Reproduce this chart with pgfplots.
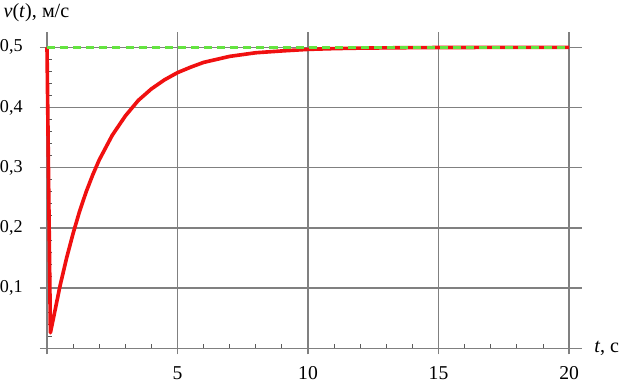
\documentclass[border=0pt]{standalone}
\usepackage{fontspec}
\setmainfont{Liberation Serif}
\usepackage{pgfplots}
\pgfplotsset{compat=1.18}
\definecolor{cred}{RGB}{240,16,16}
\definecolor{cgreen}{RGB}{100,228,64}
\definecolor{cgrid}{RGB}{128,128,128}
\begin{document}
\begin{tikzpicture}
\begin{axis}[
 scale only axis, width=538.6pt, height=320pt,
 xmin=-0.27, xmax=20.5, ymin=-0.01, ymax=0.525,
 axis lines=middle,
 axis line style={draw=cgrid, line width=1.5pt, -},
 grid=major, grid style={draw=cgrid, line width=1.4pt},
 xtick={0,5,10,15,20}, xticklabels={,5,10,15,20},
 ytick={0,0.1,0.2,0.3,0.4,0.5}, yticklabels={,{0,1},{0,2},{0,3},{0,4},{0,5}},
 minor x tick num=4, minor y tick num=4,
 major tick length=0pt, minor tick length=4.5pt,
 tick align=inside,
 minor tick style={draw=black!65, line width=0.9pt},
 xticklabel style={font=\fontsize{19.5}{22}\selectfont, inner ysep=4pt, inner xsep=0pt, anchor=north, yshift=-14pt},
 yticklabel style={font=\fontsize{18}{20}\selectfont, inner sep=0pt, anchor=east, xshift=-24pt},
 xlabel={\textit{t}, с}, ylabel={\textit{v}(\textit{t}), м/с},
 every axis x label/.style={at={(axis description cs:1,0.01869)}, anchor=west, inner sep=0pt, xshift=12pt, font=\fontsize{20}{22}\selectfont},
 every axis y label/.style={at={(axis description cs:0,1)}, anchor=center, inner ysep=4pt, inner xsep=0pt, xshift=-3.5pt, yshift=19pt, font=\fontsize{20}{22}\selectfont},
]
\addplot[color=cred, line width=3.6pt, line join=round] coordinates {
(0,0.5) (0.13,0.026) (0.25,0.051) (0.5,0.104) (0.75,0.150) (1.0,0.191)
(1.25,0.228) (1.5,0.260) (1.75,0.288) (2.0,0.313) (2.5,0.354) (3.0,0.386)
(3.5,0.412) (4.0,0.431) (4.5,0.446) (5.0,0.458) (5.5,0.467) (6.0,0.475)
(7.0,0.485) (8.0,0.491) (9.0,0.494) (10,0.4966) (11,0.4979) (12,0.4987)
(14,0.4995) (16,0.4998) (20,0.5)
};
\addplot[color=cgreen, line width=3.4pt, dash pattern=on 8pt off 5pt] coordinates {(0,0.5) (20,0.5)};
\end{axis}
\end{tikzpicture}
\end{document}
